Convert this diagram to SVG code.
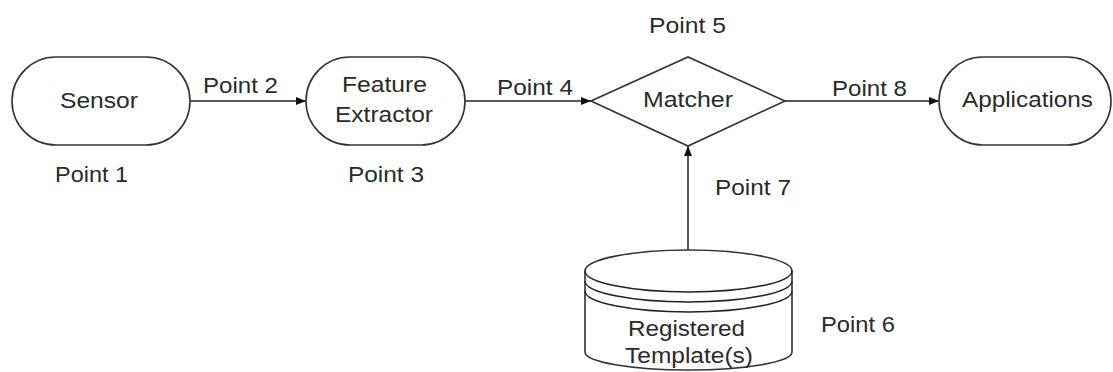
<svg xmlns="http://www.w3.org/2000/svg" width="1113" height="372" viewBox="0 0 1113 372">
<style>
.shape{fill:#fff;stroke:#333;stroke-width:1.6}
.line{fill:none;stroke:#222;stroke-width:1.5}
text{font-family:"Liberation Sans",Arial,sans-serif;font-size:22px;fill:#2a2a2a}
</style>
<defs>
<marker id="arr" viewBox="0 0 10 8" refX="10" refY="4" markerWidth="10" markerHeight="8" markerUnits="userSpaceOnUse" orient="auto">
<path d="M0,0 L10,4 L0,8 Z" fill="#111"/>
</marker>
</defs>
<rect width="1113" height="372" fill="#fff"/>
<g id="connectors">
<line class="line" x1="190" y1="101" x2="306" y2="101" marker-end="url(#arr)"/>
<line class="line" x1="465" y1="101" x2="591" y2="101" marker-end="url(#arr)"/>
<line class="line" x1="785" y1="101" x2="939" y2="101" marker-end="url(#arr)"/>
<line class="line" x1="688" y1="250" x2="688" y2="146" marker-end="url(#arr)"/>
<text x="203" y="93" textLength="75" lengthAdjust="spacingAndGlyphs">Point 2</text>
<text x="497" y="95" textLength="76" lengthAdjust="spacingAndGlyphs">Point 4</text>
<text x="832" y="96" textLength="75" lengthAdjust="spacingAndGlyphs">Point 8</text>
<text x="715" y="195" textLength="76" lengthAdjust="spacingAndGlyphs">Point 7</text>
</g>
<g id="sensor">
<rect class="shape" x="12" y="57" width="178" height="88" rx="44" ry="44"/>
<text x="60" y="108" textLength="78" lengthAdjust="spacingAndGlyphs">Sensor</text>
<text x="55" y="182" textLength="73" lengthAdjust="spacingAndGlyphs">Point 1</text>
</g>
<g id="feature-extractor">
<rect class="shape" x="306" y="57" width="159" height="88" rx="44" ry="44"/>
<text x="342" y="92" textLength="85" lengthAdjust="spacingAndGlyphs">Feature</text>
<text x="335" y="122" textLength="98" lengthAdjust="spacingAndGlyphs">Extractor</text>
<text x="348" y="182" textLength="76" lengthAdjust="spacingAndGlyphs">Point 3</text>
</g>
<g id="matcher">
<polygon class="shape" points="591,101 688,57 785,101 688,146"/>
<text x="643" y="107" textLength="90" lengthAdjust="spacingAndGlyphs">Matcher</text>
<text x="649" y="33" textLength="77" lengthAdjust="spacingAndGlyphs">Point 5</text>
</g>
<g id="applications">
<rect class="shape" x="939" y="57" width="172" height="88" rx="44" ry="44"/>
<text x="962" y="107" textLength="131" lengthAdjust="spacingAndGlyphs">Applications</text>
</g>
<g id="registered-templates">
<path class="shape" d="M585,271 L585,352 A103.5,18 0 0 0 792,352 L792,271 A103.5,21 0 0 0 585,271 Z"/>
<path class="line" d="M585,271 A103.5,21 0 0 0 792,271"/>
<path class="line" d="M585,281 A103.5,21 0 0 0 792,281"/>
<path class="line" d="M585,291 A103.5,21 0 0 0 792,291"/>
<text x="628" y="336" textLength="117" lengthAdjust="spacingAndGlyphs">Registered</text>
<text x="625" y="363" textLength="128" lengthAdjust="spacingAndGlyphs">Template(s)</text>
<text x="821" y="332" textLength="74" lengthAdjust="spacingAndGlyphs">Point 6</text>
</g>
</svg>
